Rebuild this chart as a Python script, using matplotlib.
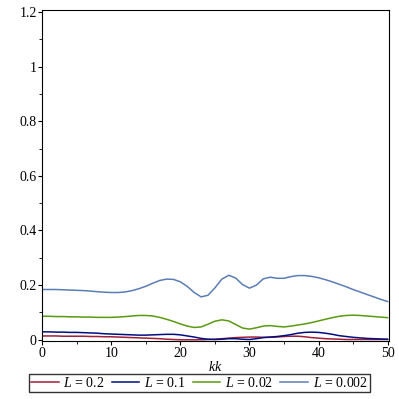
import matplotlib
matplotlib.use('Agg')
import matplotlib.pyplot as plt
from matplotlib.ticker import MultipleLocator

plt.rcParams['font.family'] = 'Liberation Serif'
plt.rcParams['mathtext.fontset'] = 'custom'
plt.rcParams['mathtext.it'] = 'Liberation Serif:italic'
plt.rcParams['mathtext.rm'] = 'Liberation Serif'

# kk values (0..50)
kk = list(range(51))

# L = 0.2
y_02 = [0.014, 0.014, 0.014, 0.013, 0.013, 0.013, 0.013, 0.012, 0.012, 0.011,
        0.011, 0.010, 0.009, 0.008, 0.007, 0.006, 0.005, 0.004, 0.002, 0.001,
        0.000, 0.000, 0.000, 0.000, 0.001, 0.002, 0.004, 0.006, 0.008, 0.009,
        0.010, 0.010, 0.009, 0.009, 0.010, 0.012, 0.013, 0.013, 0.011, 0.008,
        0.006, 0.004, 0.003, 0.002, 0.001, 0.001, 0.001, 0.001, 0.001, 0.001,
        0.001]

# L = 0.1
y_01 = [0.029, 0.029, 0.028, 0.028, 0.027, 0.027, 0.026, 0.025, 0.024, 0.022,
        0.021, 0.020, 0.019, 0.018, 0.017, 0.017, 0.018, 0.019, 0.020, 0.020,
        0.018, 0.014, 0.010, 0.005, 0.002, 0.001, 0.002, 0.004, 0.004, 0.002,
        0.001, 0.004, 0.008, 0.010, 0.012, 0.015, 0.019, 0.024, 0.027, 0.028,
        0.027, 0.024, 0.020, 0.015, 0.012, 0.009, 0.007, 0.005, 0.004, 0.003,
        0.002]

# L = 0.02
y_002 = [0.086, 0.086, 0.085, 0.085, 0.084, 0.084, 0.083, 0.083, 0.082, 0.082,
         0.082, 0.083, 0.085, 0.087, 0.089, 0.089, 0.087, 0.082, 0.075, 0.067,
         0.058, 0.050, 0.045, 0.047, 0.057, 0.068, 0.073, 0.069, 0.056, 0.043,
         0.039, 0.044, 0.050, 0.052, 0.049, 0.047, 0.050, 0.054, 0.058, 0.063,
         0.069, 0.075, 0.081, 0.086, 0.089, 0.090, 0.089, 0.087, 0.085, 0.083,
         0.081]

# L = 0.002
y_0002 = [0.184, 0.184, 0.184, 0.183, 0.182, 0.181, 0.180, 0.178, 0.176, 0.174,
          0.173, 0.173, 0.175, 0.180, 0.187, 0.196, 0.207, 0.217, 0.222, 0.221,
          0.212, 0.195, 0.173, 0.157, 0.163, 0.190, 0.222, 0.236, 0.226, 0.202,
          0.189, 0.200, 0.223, 0.229, 0.225, 0.225, 0.231, 0.235, 0.235, 0.232,
          0.227, 0.220, 0.212, 0.203, 0.194, 0.184, 0.175, 0.166, 0.157, 0.148,
          0.140]

labels = [r'$L$ = 0.2', r'$L$ = 0.1', r'$L$ = 0.02', r'$L$ = 0.002']
colors = ['#A0203A', '#000E80', '#5A9A10', '#5A7DB5']
series = [y_02, y_01, y_002, y_0002]

fig = plt.figure(figsize=(3.99, 3.99), dpi=100)
ax = fig.add_axes([0.106, 0.145, 0.868, 0.83])

for ys, lab, col in zip(series, labels, colors):
    ax.plot(kk, ys, color=col, lw=1.1, label=lab)

ax.set_xlim(0, 50.15)
ax.set_ylim(-0.005, 1.207)
ax.xaxis.set_major_locator(MultipleLocator(10))
ax.xaxis.set_minor_locator(MultipleLocator(5))
ax.yaxis.set_minor_locator(MultipleLocator(0.1))
ax.set_yticks([0, 0.2, 0.4, 0.6, 0.8, 1.0, 1.2])
ax.set_yticklabels(['0', '0.2', '0.4', '0.6', '0.8', '1', '1.2'])
ax.tick_params(which='major', length=3, width=0.8, labelsize=10, pad=1)
ax.tick_params(which='minor', length=2, width=0.6)
ax.set_xlabel(r'$kk$', fontsize=10, labelpad=0)

fig.legend(loc='lower center', bbox_to_anchor=(0.5, 0.017), ncol=4,
           fontsize=10, frameon=True, fancybox=False, edgecolor='black',
           handlelength=2.0, handletextpad=0.35, columnspacing=0.5,
           borderpad=0.15, borderaxespad=0)

fig.savefig('out.png', dpi=100)
